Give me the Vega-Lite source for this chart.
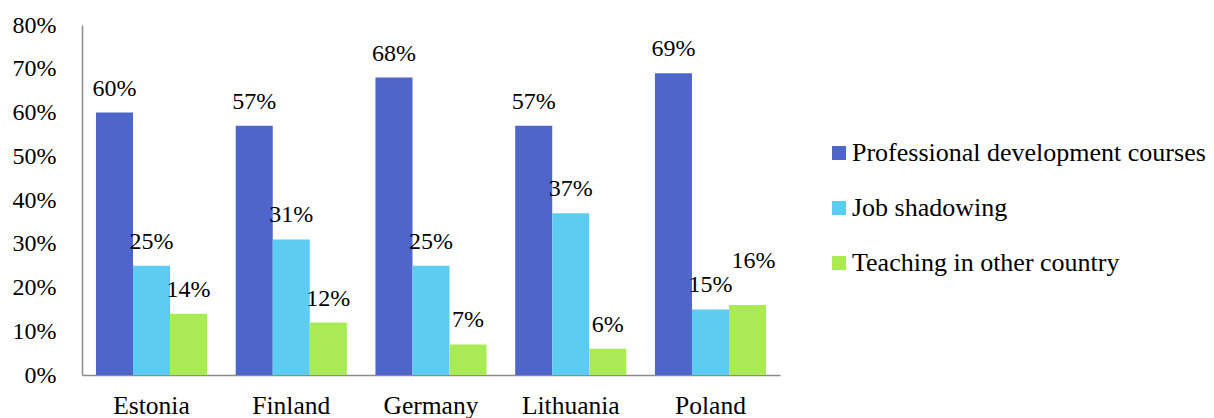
{
  "$schema": "https://vega.github.io/schema/vega-lite/v6.json",
  "autosize": {"type": "none"},
  "padding": {"left": 82, "top": 25, "right": 434, "bottom": 43},
  "width": 698,
  "height": 350,
  "background": "white",
  "config": {
    "font": "'Liberation Serif', serif",
    "view": {"stroke": null}
  },
  "data": {
    "values": [
      {"country": "Estonia", "type": "Professional development courses", "value": 0.60},
      {"country": "Estonia", "type": "Job shadowing", "value": 0.25},
      {"country": "Estonia", "type": "Teaching in other country", "value": 0.14},
      {"country": "Finland", "type": "Professional development courses", "value": 0.57},
      {"country": "Finland", "type": "Job shadowing", "value": 0.31},
      {"country": "Finland", "type": "Teaching in other country", "value": 0.12},
      {"country": "Germany", "type": "Professional development courses", "value": 0.68},
      {"country": "Germany", "type": "Job shadowing", "value": 0.25},
      {"country": "Germany", "type": "Teaching in other country", "value": 0.07},
      {"country": "Lithuania", "type": "Professional development courses", "value": 0.57},
      {"country": "Lithuania", "type": "Job shadowing", "value": 0.37},
      {"country": "Lithuania", "type": "Teaching in other country", "value": 0.06},
      {"country": "Poland", "type": "Professional development courses", "value": 0.69},
      {"country": "Poland", "type": "Job shadowing", "value": 0.15},
      {"country": "Poland", "type": "Teaching in other country", "value": 0.16}
    ]
  },
  "encoding": {
    "x": {
      "field": "country", "type": "nominal", "sort": null,
      "scale": {"paddingInner": 0.205, "paddingOuter": 0.1},
      "axis": {"title": null, "labelAngle": 0, "labelFont": "'Liberation Serif', serif", "labelFontSize": 25.5, "labelColor": "black", "ticks": false, "labelPadding": 18, "domainColor": "#8c8c8c", "domainWidth": 1.5, "grid": false}
    },
    "xOffset": {"field": "type", "type": "nominal", "sort": ["Professional development courses", "Job shadowing", "Teaching in other country"]},
    "y": {
      "field": "value", "type": "quantitative",
      "scale": {"domain": [0, 0.8]},
      "axis": {"title": null, "format": ".0%", "values": [0,0.1,0.2,0.3,0.4,0.5,0.6,0.7,0.8], "labelOverlap": false, "labelFont": "'Liberation Serif', serif", "labelFontSize": 24, "labelColor": "black", "ticks": false, "labelPadding": 26, "domainColor": "#8c8c8c", "domainWidth": 1.5, "grid": false}
    }
  },
  "layer": [
    {
      "mark": {"type": "bar"},
      "encoding": {
        "color": {
          "field": "type", "type": "nominal",
          "sort": ["Professional development courses", "Job shadowing", "Teaching in other country"],
          "scale": {"domain": ["Professional development courses", "Job shadowing", "Teaching in other country"], "range": ["#4E66C9", "#5CCCF2", "#A9EA55"]},
          "legend": {
            "title": null, "orient": "none", "legendX": 744, "legendY": 115,
            "symbolType": "square", "symbolSize": 196, "symbolStrokeWidth": 0,
            "labelFont": "'Liberation Serif', serif",
            "labelFontSize": 26, "labelColor": "black", "labelOffset": 0,
            "rowPadding": 29, "labelLimit": 420
          }
        }
      }
    },
    {
      "transform": [{"filter": "!(datum.country == 'Poland' && datum.type == 'Teaching in other country')"}],
      "mark": {"type": "text", "baseline": "alphabetic", "dy": -17, "font": "'Liberation Serif', serif", "fontSize": 24, "color": "black"},
      "encoding": {"text": {"field": "value", "type": "quantitative", "format": ".0%"}}
    },
    {
      "transform": [{"filter": "datum.country == 'Poland' && datum.type == 'Teaching in other country'"}],
      "mark": {"type": "text", "baseline": "alphabetic", "dy": -37, "dx": 6, "font": "'Liberation Serif', serif", "fontSize": 24, "color": "black"},
      "encoding": {"text": {"field": "value", "type": "quantitative", "format": ".0%"}}
    }
  ]
}
